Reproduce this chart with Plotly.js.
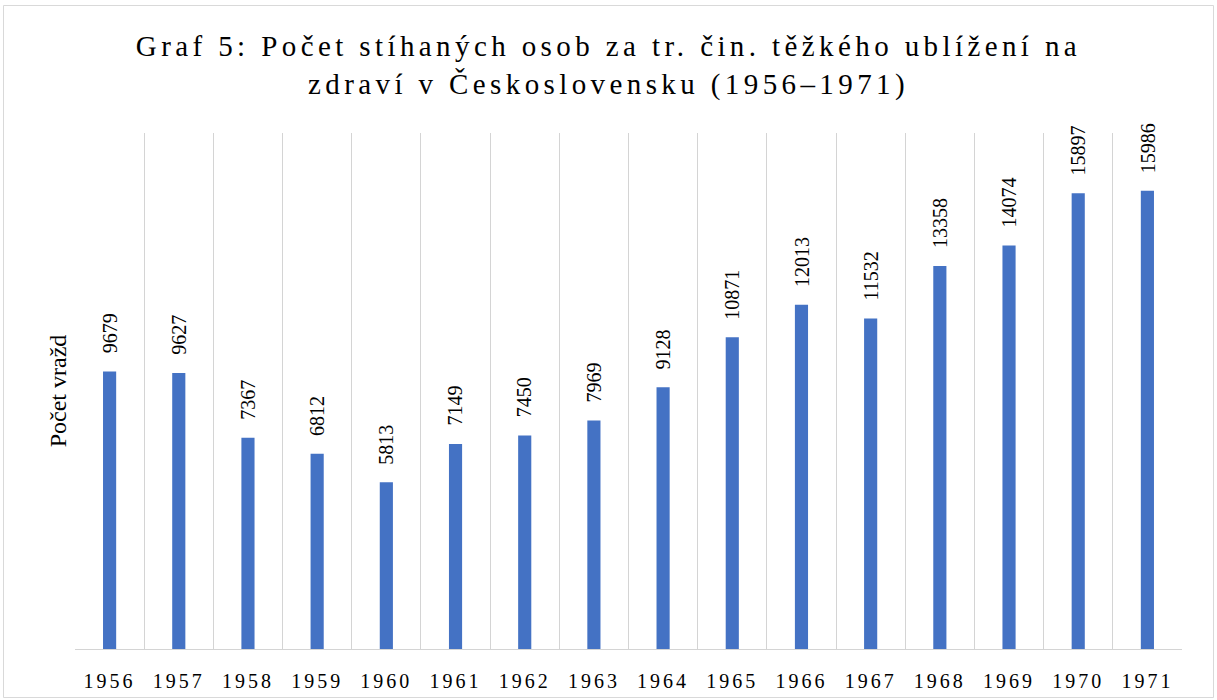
<!DOCTYPE html>
<html>
<head>
<meta charset="utf-8">
<script src="https://cdn.plot.ly/plotly-3.0.1.min.js"></script>
<style>
  html, body { margin: 0; padding: 0; background: #fff; }
  #chart { width: 1217px; height: 700px; }
  .gtitle { letter-spacing: 4.4px; }
  .xtick text { letter-spacing: 3px; }
</style>
</head>
<body>
<div id="chart"></div>
<script>
const years = ["1956","1957","1958","1959","1960","1961","1962","1963","1964","1965","1966","1967","1968","1969","1970","1971"];
const counts = [9679, 9627, 7367, 6812, 5813, 7149, 7450, 7969, 9128, 10871, 12013, 11532, 13358, 14074, 15897, 15986];
const titleText = "Graf 5: Počet stíhaných osob za tr. čin. těžkého ublížení na<br>zdraví v Československu (1956–1971)";
const yTitle = "Počet vražd";

const serif = "'Liberation Serif', 'Times New Roman', serif";

const trace = {
  type: "bar",
  x: years,
  y: counts,
  marker: { color: "#4472C4" },
  hoverinfo: "x+y"
};

const annotations = years.map((yr, i) => ({
  x: i,
  y: counts[i],
  xref: "x",
  yref: "y",
  text: String(counts[i]),
  textangle: -90,
  showarrow: false,
  xanchor: "center",
  yanchor: "bottom",
  yshift: 16,
  font: { family: serif, size: 20, color: "#000" }
}));

const layout = {
  width: 1217,
  height: 700,
  margin: { l: 75, r: 35, t: 133, b: 51, pad: 0 },
  paper_bgcolor: "#fff",
  plot_bgcolor: "#fff",
  showlegend: false,
  bargap: 0.81,
  title: {
    text: titleText,
    font: { family: serif, size: 29, color: "#000" },
    x: 0.5,
    xanchor: "center",
    y: 0.92,
    yanchor: "top",
    yref: "container"
  },
  xaxis: {
    type: "category",
    categoryarray: years,
    range: [-0.5, years.length - 0.5],
    tickson: "boundaries",
    showgrid: true,
    gridcolor: "#d4d4d4",
    gridwidth: 1.3,
    ticks: "",
    showline: true,
    linecolor: "#d4d4d4",
    linewidth: 1.3,
    tickfont: { family: serif, size: 20, color: "#000" },
    ticklabelstandoff: 14
  },
  yaxis: {
    range: [0, 18000],
    showgrid: false,
    zeroline: false,
    showticklabels: false,
    ticks: "",
    showline: false,
    title: { text: yTitle, font: { family: serif, size: 24, color: "#000" }, standoff: 0 }
  },
  annotations: annotations,
  shapes: [{
    type: "rect",
    xref: "paper", yref: "paper",
    x0: (3.5 - 75) / 1107, x1: (1213.5 - 75) / 1107,
    y0: (649 - 697.5) / 516, y1: (649 - 5.5) / 516,
    line: { color: "#d9d9d9", width: 1 },
    fillcolor: "rgba(0,0,0,0)",
    layer: "below"
  }]
};

Plotly.newPlot("chart", [trace], layout, { displayModeBar: false });
</script>
</body>
</html>
